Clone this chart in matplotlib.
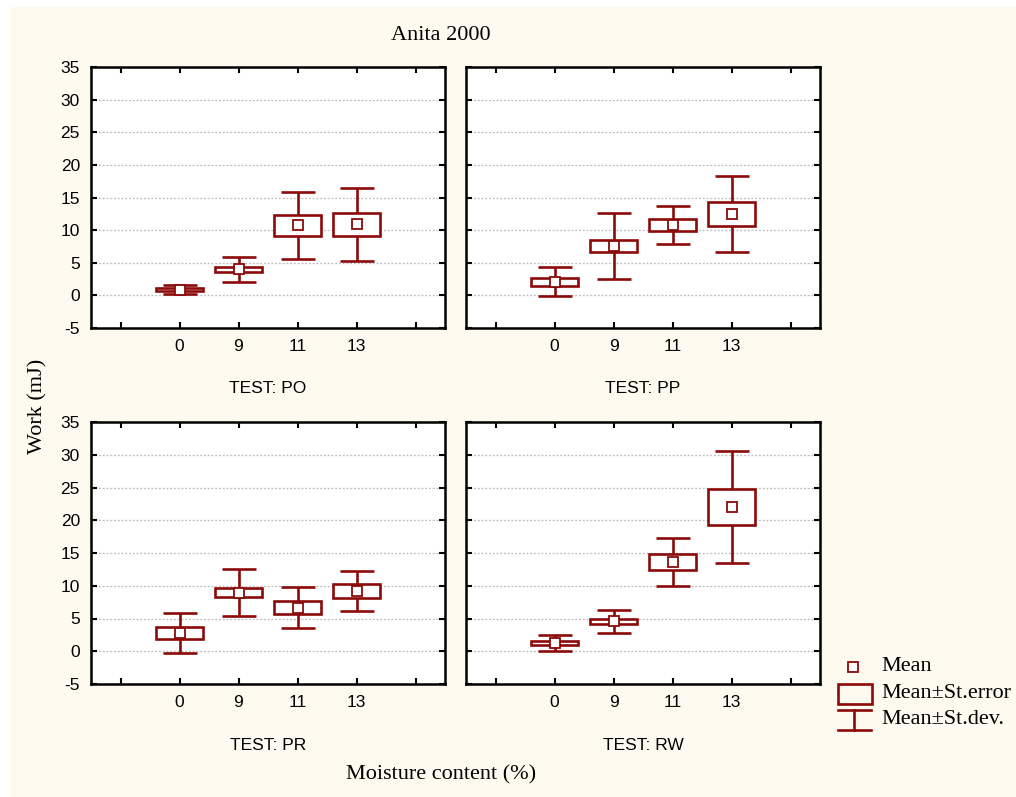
import matplotlib
matplotlib.use("Agg")
import matplotlib.pyplot as plt
from matplotlib.patches import Rectangle
import numpy as np

# moisture content categories
moisture = ["0", "9", "11", "13"]
tests = ["PO", "PP", "PR", "RW"]

# mean, standard error and standard deviation of work (mJ)
mean_po = [0.85, 4.0, 10.75, 10.9]
se_po = [0.22, 0.4, 1.6, 1.8]
sd_po = [0.7, 1.9, 5.1, 5.6]

mean_pp = [2.1, 7.6, 10.75, 12.5]
se_pp = [0.6, 0.92, 0.95, 1.8]
sd_pp = [2.2, 5.05, 2.9, 5.8]

mean_pr = [2.8, 8.95, 6.65, 9.2]
se_pr = [0.97, 0.67, 1.0, 1.05]
sd_pr = [3.1, 3.6, 3.15, 3.1]

mean_rw = [1.25, 4.55, 13.6, 22.0]
se_rw = [0.3, 0.38, 1.2, 2.7]
sd_rw = [1.2, 1.7, 3.65, 8.5]

panels = [
    (mean_po, se_po, sd_po),
    (mean_pp, se_pp, sd_pp),
    (mean_pr, se_pr, sd_pr),
    (mean_rw, se_rw, sd_rw),
]

RED = "#8B0A0A"
SERIF = "Liberation Serif"
SANS = "Liberation Sans"
W, H = 1016, 797
LW = 1.9


def frac(x0, y0, x1, y1):
    # pixel box (top-left origin) -> figure fraction rect
    return [x0 / W, (H - y1) / H, (x1 - x0) / W, (y1 - y0) / H]


fig = plt.figure(figsize=(W / 100, H / 100), dpi=100, facecolor="white")
fig.patches.append(Rectangle((10 / W, 0), 1 - 10 / W, 1 - 7 / H,
                             transform=fig.transFigure, facecolor="#FFFAF0",
                             edgecolor="none", zorder=-10))

boxes = [(91, 67, 445, 328), (466, 67, 820, 328),
         (91, 422, 445, 684), (466, 422, 820, 684)]

for i, (m, se, sd) in enumerate(panels):
    ax = fig.add_axes(frac(*boxes[i]))
    ax.set_facecolor("white")
    pos = np.arange(1, len(moisture) + 1)
    m = np.array(m)
    se = np.array(se)
    sd = np.array(sd)

    ax.errorbar(pos, m, yerr=sd, fmt="none", ecolor=RED, elinewidth=LW,
                capsize=12, capthick=LW, zorder=3)
    ax.bar(pos, 2 * se, bottom=m - se, width=0.81, facecolor="white",
           edgecolor=RED, linewidth=LW, zorder=4)
    ax.plot(pos, m, linestyle="none", marker="s", markersize=6.5,
            markerfacecolor="white", markeredgecolor=RED, markeredgewidth=1.3,
            zorder=5)

    ax.set_xlim(-0.5, 5.5)
    ax.set_ylim(-5, 35)
    ax.set_xticks(range(0, 6))
    ax.set_xticklabels([""] + moisture + [""])
    ax.set_yticks(range(-5, 36, 5))
    if i % 2 == 0:
        ax.set_yticklabels([str(v) for v in range(-5, 36, 5)])
    else:
        ax.set_yticklabels([])
    ax.tick_params(direction="in", length=4, width=1.5, top=True, right=True,
                   labelsize=12.5, pad=8)
    for lab in ax.get_xticklabels() + ax.get_yticklabels():
        lab.set_fontfamily(SANS)
    for s in ax.spines.values():
        s.set_linewidth(1.8)
    ax.yaxis.grid(True, linestyle=(0, (1.5, 1.5)), color="#bbbbbb", linewidth=0.9)
    ax.set_axisbelow(True)
    ax.text(0.5, -0.233, "TEST: " + tests[i], transform=ax.transAxes,
            ha="center", va="center", fontsize=12.5, family=SANS)

fig.text(441 / W, 1 - 35 / H, "Anita 2000", ha="center", va="center",
         fontsize=16, family=SERIF)
fig.text(441 / W, 1 - 775 / H, "Moisture content (%)", ha="center",
         va="center", fontsize=16, family=SERIF)
fig.text(38 / W, 1 - 406 / H, "Work (mJ)", ha="center", va="center",
         rotation=90, fontsize=16, family=SERIF)

# legend drawn in pixel coordinates
lg = fig.add_axes(frac(830, 650, 1016, 740))
lg.set_xlim(830, 1016)
lg.set_ylim(740, 650)
lg.axis("off")
lg.plot([853], [667], linestyle="none", marker="s", markersize=6.5,
        markerfacecolor="white", markeredgecolor=RED, markeredgewidth=1.3)
lg.add_patch(Rectangle((838, 684), 34, 20, facecolor="none", edgecolor=RED,
                       linewidth=LW))
lg.plot([838, 871], [710, 710], color=RED, linewidth=LW)
lg.plot([838, 871], [730, 730], color=RED, linewidth=LW)
lg.plot([854, 854], [710, 730], color=RED, linewidth=LW)
for y, t in [(667, "Mean"), (694, "Mean±St.error"), (720, "Mean±St.dev.")]:
    lg.text(881, y, t, ha="left", va="center", fontsize=16, family=SERIF)

fig.savefig("out.png", dpi=100, facecolor=fig.get_facecolor())
